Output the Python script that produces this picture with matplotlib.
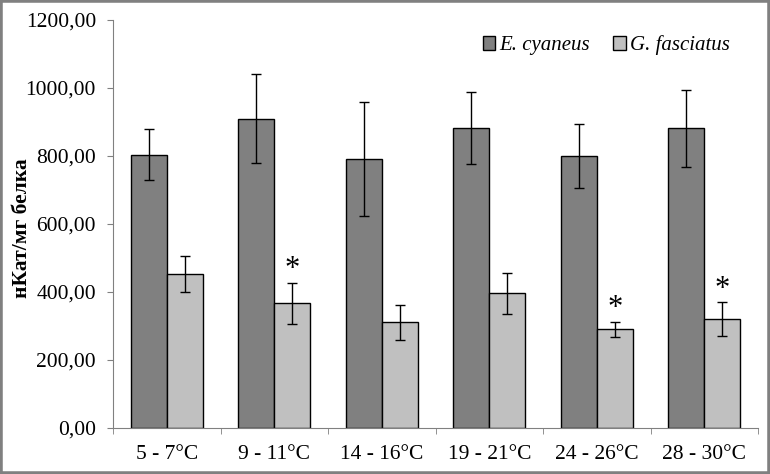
import matplotlib.pyplot as plt
import numpy as np
from matplotlib.patches import Rectangle
from matplotlib.ticker import FuncFormatter

plt.rcParams['font.family'] = ['Liberation Serif', 'DejaVu Serif']

# data
categories = ['5 - 7°C', '9 - 11°C', '14 - 16°C', '19 - 21°C', '24 - 26°C', '28 - 30°C']
cyaneus = [803, 910, 791, 882, 801, 881]
cyaneus_err = [75, 130, 168, 105, 94, 112]
fasciatus = [452, 367, 311, 396, 290, 320]
fasciatus_err = [53, 60, 52, 60, 23, 50]
significant = [False, True, False, False, True, True]

fig = plt.figure(figsize=(7.7, 4.74), dpi=100)
ax = fig.add_axes([0.1468, 0.097, 0.8377, 0.8608])

x = np.arange(len(categories))
w = 0.335
err_kw = dict(ecolor='black', elinewidth=1, capsize=3.5, capthick=1)
ax.bar(x - w / 2, cyaneus, w, yerr=cyaneus_err, color='#808080',
       edgecolor='black', linewidth=1, error_kw=err_kw, label='E. cyaneus')
ax.bar(x + w / 2, fasciatus, w, yerr=fasciatus_err, color='#c0c0c0',
       edgecolor='black', linewidth=1, error_kw=err_kw, label='G. fasciatus')

# asterisks above significant G. fasciatus bars
for xi, v, e, s in zip(x, fasciatus, fasciatus_err, significant):
    if s:
        ax.annotate('*', (xi + w / 2, v + e), xytext=(0, -1), textcoords='offset points',
                    ha='center', va='bottom', fontsize=22)

ax.set_xlim(-0.5, len(categories) - 0.5)
ax.set_ylim(0, 1200)
ax.set_yticks(np.arange(0, 1201, 200))
ax.yaxis.set_major_formatter(FuncFormatter(lambda v, p: f'{v:.2f}'.replace('.', ',')))
ax.set_xticks(x)
ax.set_xticklabels(categories)
ax.set_xticks(np.arange(-0.5, len(categories)), minor=True)
ax.tick_params(axis='x', which='major', length=0, pad=12, labelsize=15.5)
ax.tick_params(axis='x', which='minor', length=4.3, color='#808080', direction='out')
ax.tick_params(axis='y', length=4.3, color='#808080', labelsize=15.5, pad=8)

for side in ['top', 'right']:
    ax.spines[side].set_visible(False)
for side in ['left', 'bottom']:
    ax.spines[side].set_color('#808080')

ax.set_ylabel('нКат/мг белка', fontsize=15.5, fontweight='bold')
ax.yaxis.set_label_coords(-0.1256, 0.49)

leg = ax.legend(loc='upper right', ncol=2, frameon=False, prop={'style': 'italic', 'size': 15},
                handlelength=0.6, handleheight=0.6, handletextpad=0.2, columnspacing=1.1,
                bbox_to_anchor=(0.985, 1.008))

# grey frame around the whole figure
fig.patches.append(Rectangle((0, 0), 1, 1, transform=fig.transFigure, fill=False,
                             edgecolor='#808080', linewidth=4))

fig.savefig('out.png', dpi=100)
